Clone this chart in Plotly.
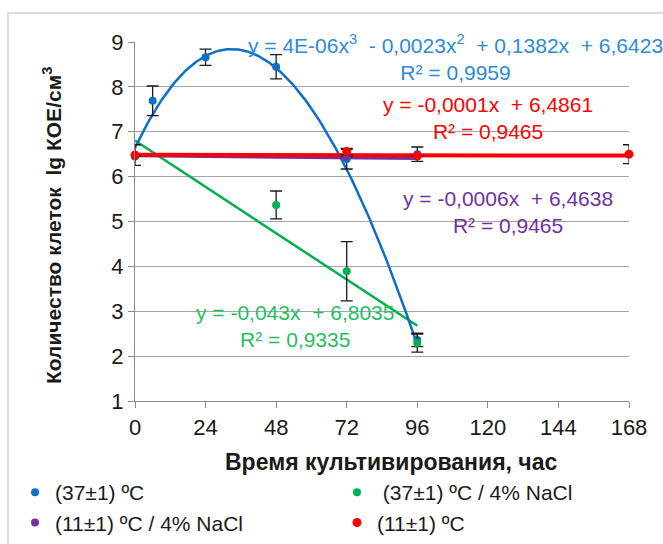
import numpy as np
import plotly.graph_objects as go

# Hours of cultivation and log CFU/cm3 for each condition
hours_37 = [0, 6, 24, 48, 72, 96]
vals_37 = [6.48, 7.69, 8.66, 8.45, 6.39, 2.36]
err_37 = [0.0, 0.33, 0.18, 0.27, 0.22, 0.15]

hours_37_nacl = [0, 48, 72, 96]
vals_37_nacl = [6.45, 5.37, 3.89, 2.29]
err_37_nacl = [0.0, 0.31, 0.66, 0.2]

hours_11_nacl = [0, 72, 96]
vals_11_nacl = [6.46, 6.45, 6.5]
err_11_nacl = [0.0, 0.0, 0.16]

hours_11 = [0, 72, 96, 168]
vals_11 = [6.48, 6.56, 6.46, 6.5]
err_11 = [0.23, 0.07, 0.0, 0.21]

# Trendline coefficients (highest power first) and labels
fit_37 = [4e-06, -0.0023, 0.1382, 6.6423]
fit_37_nacl = [-0.043, 6.8035]
fit_11_nacl = [-0.0006, 6.4638]
fit_11 = [-0.0001, 6.4861]

label_37 = "y = 4E-06x<sup>3</sup>  - 0,0023x<sup>2</sup>  + 0,1382x  + 6,6423<br>R² = 0,9959"
label_37_nacl = "y = -0,043x  + 6,8035<br>R² = 0,9335"
label_11_nacl = "y = -0,0006x  + 6,4638<br>R² = 0,9465"
label_11 = "y = -0,0001x  + 6,4861<br>R² = 0,9465"

x_ticks = [0, 24, 48, 72, 96, 120, 144, 168]
y_ticks = [1, 2, 3, 4, 5, 6, 7, 8, 9]
x_title = "<b>Время культивирования, час</b>"
y_title = "<b>Количество клеток  lg КОЕ/см<sup>3</sup></b>"

BLUE = "#0f6fc6"
BLUE_TXT = "#2f8ad8"
GREEN = "#00b050"
GREEN_TXT = "#1fbf5f"
PURPLE = "#7030a0"
RED = "#ff0000"
INK = "#1a1a1a"
FONT = "Liberation Sans, Arial, sans-serif"
W, H = 663, 544
L, R, T, B = 135, 34, 42, 143
PW, PH = W - L - R, H - T - B

fig = go.Figure()


def trend(coefs, x_end, color, width):
    xs = np.linspace(0, x_end, 200)
    fig.add_trace(go.Scatter(
        x=xs, y=np.polyval(coefs, xs), mode="lines",
        line=dict(color=color, width=width), showlegend=False,
        hoverinfo="skip", cliponaxis=False))


def points(xs, ys, errs, color, name, legend, size=8):
    fig.add_trace(go.Scatter(
        x=xs, y=ys, mode="markers", name=name, legend=legend,
        marker=dict(color=color, size=size),
        error_y=dict(type="data", array=errs, visible=True,
                     color=INK, thickness=1.3, width=6),
        cliponaxis=False))


# Trendlines first so the measured points sit on top
trend(fit_37_nacl, 96, GREEN, 2.5)
trend(fit_37, 96, BLUE, 2.5)
trend(fit_11_nacl, 96, PURPLE, 3)
trend(fit_11, 168, RED, 4)

points(hours_37, vals_37, err_37, BLUE, "(37±1) ºC", "legend")
points(hours_37_nacl, vals_37_nacl, err_37_nacl, GREEN, " (37±1) ºC / 4% NaCl", "legend2")
points(hours_11_nacl, vals_11_nacl, err_11_nacl, PURPLE, "(11±1) ºC / 4% NaCl", "legend")
points(hours_11, vals_11, err_11, RED, "(11±1) ºC", "legend2", size=9)


def px_x(px):
    return (px - L) / PW


def px_y(py):
    return (H - B - py) / PH


# Equation labels: pixel anchor of the text block centre
annotations = [
    dict(px=455, py=57, text=label_37, color=BLUE_TXT),
    dict(px=488, py=118, text=label_11, color=RED),
    dict(px=508, py=212, text=label_11_nacl, color=PURPLE),
    dict(px=295, py=326, text=label_37_nacl, color=GREEN_TXT),
]
for a in annotations:
    fig.add_annotation(
        x=px_x(a["px"]), y=px_y(a["py"]),
        xref="paper", yref="paper", xanchor="center", yanchor="middle",
        text=a["text"], showarrow=False,
        font=dict(family=FONT, size=21, color=a["color"]), align="center")

# Axis titles
fig.add_annotation(x=px_x(52), y=px_y(226), xref="paper", yref="paper",
                   text=y_title, textangle=-90, showarrow=False,
                   xanchor="center", yanchor="middle",
                   font=dict(family=FONT, size=21, color=INK))
fig.add_annotation(x=px_x(391), y=px_y(462), xref="paper", yref="paper",
                   text=x_title, showarrow=False,
                   xanchor="center", yanchor="middle",
                   font=dict(family=FONT, size=23, color=INK))

# Light frame around the chart area
fig.add_shape(type="rect", xref="paper", yref="paper",
              x0=px_x(8), x1=px_x(700), y0=px_y(600), y1=px_y(13),
              line=dict(color="#d0d0d0", width=1.5), layer="below")

legend_style = dict(
    orientation="v", xref="container", yref="container",
    xanchor="left", yanchor="top", itemsizing="trace",
    bgcolor="rgba(0,0,0,0)", tracegroupgap=0,
    font=dict(family=FONT, size=21, color=INK))

fig.update_layout(
    width=W, height=H,
    margin=dict(l=L, r=R, t=T, b=B, autoexpand=False),
    paper_bgcolor="white", plot_bgcolor="white",
    font=dict(family=FONT, size=21, color=INK),
    showlegend=True,
    legend=dict(x=(55 - 40) / W, y=1 - 472 / H, **legend_style),
    legend2=dict(x=(377 - 40) / W, y=1 - 472 / H, **legend_style),
)
fig.update_xaxes(
    range=[0, 168], tickvals=x_ticks, showgrid=False, zeroline=False,
    showline=True, linecolor="#8c8c8c", linewidth=1.3,
    ticks="outside", ticklen=6, tickcolor="#8c8c8c",
    tickfont=dict(family=FONT, size=22, color=INK))
fig.update_yaxes(
    range=[1, 9], tickvals=y_ticks, showgrid=True, gridcolor="#a6a6a6",
    gridwidth=1.3, zeroline=False,
    showline=True, linecolor="#8c8c8c", linewidth=1.3,
    ticks="outside", ticklen=6, tickcolor="#8c8c8c",
    tickfont=dict(family=FONT, size=22, color=INK))

fig.write_html("out.html")
